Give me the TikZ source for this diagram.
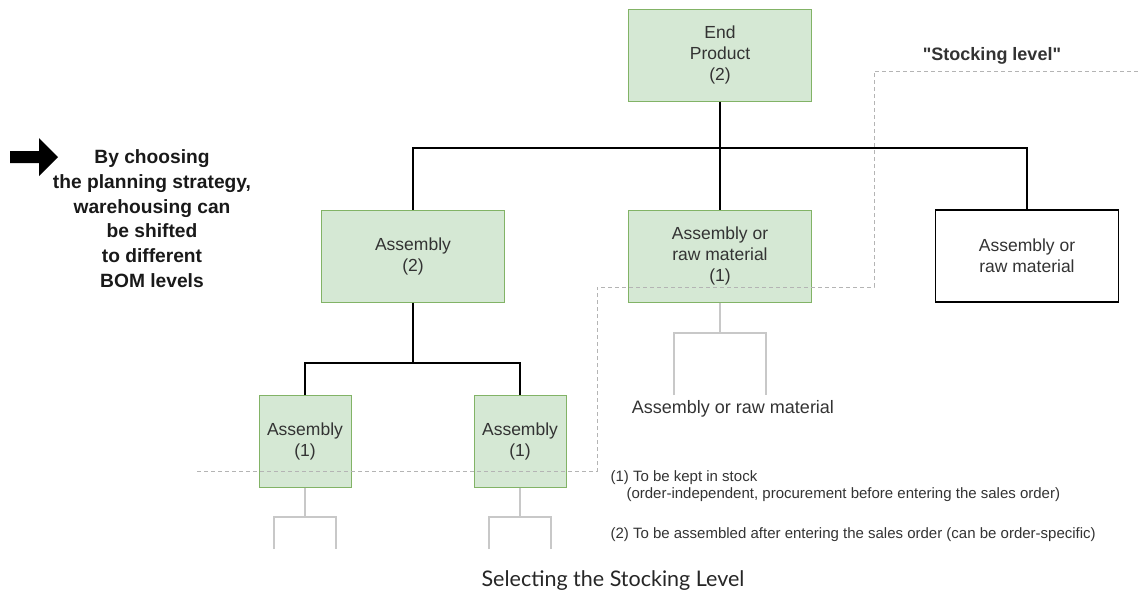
\documentclass[tikz,border=0pt]{standalone}
\usepackage{fontspec}
\setmainfont{Liberation Sans}
\newfontfamily\qfont[Ligatures=TeXOff]{Liberation Sans}
\newfontfamily\capfont{Lato}
\definecolor{gfill}{HTML}{D5E8D4}
\definecolor{gline}{HTML}{82B366}
\definecolor{txt}{HTML}{333333}
\definecolor{lgray}{HTML}{C8C8C8}
\definecolor{dgray}{HTML}{B4B4B4}
\begin{document}
\begin{tikzpicture}[x=1pt,y=-1pt,
  gbox/.style={draw=gline,fill=gfill,line width=1pt,minimum width=183pt,minimum height=92pt,align=center,text=txt,font=\fontsize{17.5}{21}\selectfont,inner sep=0pt},
  sbox/.style={gbox,minimum width=92pt,minimum height=92pt},
  wbox/.style={draw=black,fill=white,line width=1.2pt,minimum width=183pt,minimum height=92pt,align=center,text=txt,font=\fontsize{17.5}{21}\selectfont,inner sep=0pt},
  tree/.style={draw=black,line width=1.2pt},
  ltree/.style={draw=lgray,line width=1.2pt},
  stock/.style={draw=dgray,line width=0.9pt,dash pattern=on 4pt off 3pt}]
\useasboundingbox (0,0) rectangle (1141,597);
\node[gbox] (ep) at (720,55) {End\\Product\\(2)};
\node[gbox] (a2) at (413,256) {Assembly\\(2)};
\node[gbox] (mr) at (720,256) {Assembly or\\raw material\\(1)};
\node[wbox] (wb) at (1027,256) {Assembly or\\raw material};
\node[sbox] (s1) at (305,441) {Assembly\\(1)};
\node[sbox] (s2) at (520,441) {Assembly\\(1)};
\coordinate (j1) at (720,148);
\coordinate (j2) at (413,363);
\draw[tree] (ep.south) -- (j1);
\draw[tree] (a2.north) |- (j1) -| (wb.north);
\draw[tree] (j1) -- (mr.north);
\draw[tree] (a2.south) -- (j2);
\draw[tree] (s1.north) |- (j2) -| (s2.north);
% light subtrees
\coordinate (m1) at (720,333);
\coordinate (m1l) at (674,395);
\coordinate (m1r) at (766,395);
\draw[ltree] (mr.south) -- (m1);
\draw[ltree] (m1l) |- (m1) -| (m1r);
\node[text=txt,font=\fontsize{18}{21}\selectfont] (mt) at (733,409) {Assembly or raw material};
\coordinate (b1) at (305,517);
\coordinate (b1l) at (274,549);
\coordinate (b1r) at (336,549);
\draw[ltree] (s1.south) -- (b1);
\draw[ltree] (b1l) |- (b1) -| (b1r);
\coordinate (b2) at (520,517);
\coordinate (b2l) at (489,549);
\coordinate (b2r) at (551,549);
\draw[ltree] (s2.south) -- (b2);
\draw[ltree] (b2l) |- (b2) -| (b2r);
% stocking level line
\coordinate (d0) at (197,471);
\coordinate (d1) at (597,471);
\coordinate (d2) at (597,287);
\coordinate (d3) at (874,287);
\coordinate (d4) at (874,71);
\coordinate (d5) at (1141,71);
\draw[stock] (d0) -- (d1) -- (d2) -- (d3) -- (d4) -- (d5);
\node[font=\qfont\bfseries\fontsize{18}{21}\selectfont,text=txt] (sl) at (992,56) {"Stocking level"};
% left arrow and text
\fill[black] (10,151) -- (39,151) -- (39,138) -- (58,157) -- (39,176) -- (39,163) -- (10,163) -- cycle;
\node[font=\bfseries\fontsize{19.2}{24.8}\selectfont,align=center,text=black!90,anchor=north] (lt) at (152,146) {By choosing\\the planning strategy,\\warehousing can\\be shifted\\to different\\BOM levels};
% legend
\node[anchor=west,font=\fontsize{15}{17}\selectfont,text=txt,align=left] (l1) at (607,486) {(1) To be kept in stock\\\hspace*{16pt}(order-independent, procurement before entering the sales order)};
\node[anchor=west,font=\fontsize{15}{17}\selectfont,text=txt] (l2) at (607,535) {(2) To be assembled after entering the sales order (can be order-specific)};
\node[font=\capfont\fontsize{21.5}{24}\selectfont,text=black!85] (cap) at (613,581) {Selecting the Stocking Level};
\end{tikzpicture}
\end{document}
